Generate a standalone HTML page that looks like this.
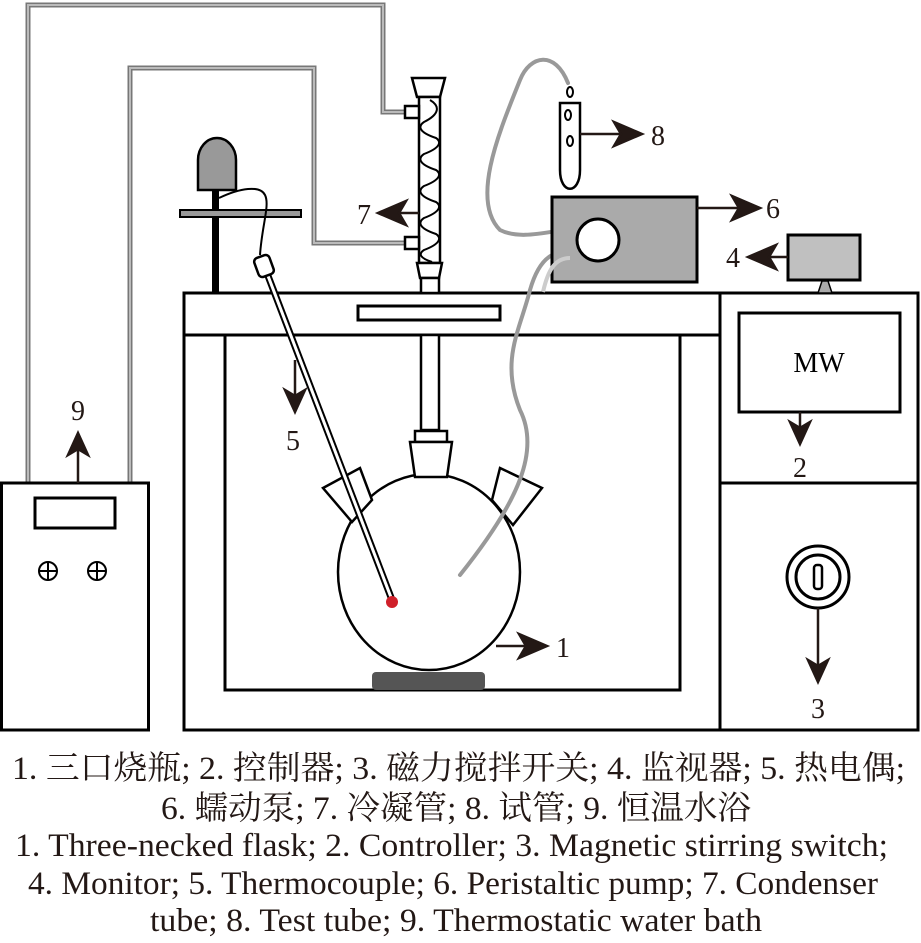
<!DOCTYPE html>
<html><head><meta charset="utf-8"><style>html,body{margin:0;padding:0;background:#fff}svg{display:block}</style></head>
<body>
<svg width="921" height="943" viewBox="0 0 921 943" xmlns="http://www.w3.org/2000/svg">
<g fill="none" stroke-linejoin="miter">
<path d="M28 483 V5 H383 V112 H405" stroke="#777" stroke-width="5"/>
<path d="M28 483 V5 H383 V112 H405" stroke="#bbb" stroke-width="2"/>
<path d="M130 483 V68 H314 V243 H405" stroke="#777" stroke-width="5"/>
<path d="M130 483 V68 H314 V243 H405" stroke="#bbb" stroke-width="2"/>
</g>
<rect x="1.5" y="483" width="147" height="247" fill="#fff" stroke="#000" stroke-width="3"/>
<rect x="35" y="498" width="80" height="30" fill="#fff" stroke="#000" stroke-width="3"/>
<g stroke="#000" stroke-width="2" fill="none">
<circle cx="48" cy="571" r="9"/><path d="M39 571h18M48 562v18"/>
<circle cx="97" cy="571" r="9"/><path d="M88 571h18M97 562v18"/>
</g>
<rect x="184" y="293" width="536" height="437" fill="#fff" stroke="#000" stroke-width="3"/>
<line x1="184" y1="335" x2="720" y2="335" stroke="#000" stroke-width="3"/>
<path d="M225 335 V690 H680 V335" fill="none" stroke="#000" stroke-width="3"/>
<rect x="358" y="306" width="142" height="14" fill="#fff" stroke="#000" stroke-width="3"/>
<rect x="720" y="293" width="198" height="437" fill="#fff" stroke="#000" stroke-width="3"/>
<line x1="720" y1="483" x2="918" y2="483" stroke="#000" stroke-width="3"/>
<rect x="739" y="313" width="161" height="99" fill="#fff" stroke="#000" stroke-width="3"/>
<text x="819" y="372" font-family="Liberation Serif, serif" font-size="28" text-anchor="middle">MW</text>
<circle cx="818" cy="577" r="31" fill="#fff" stroke="#000" stroke-width="3"/>
<circle cx="818" cy="577" r="22" fill="#fff" stroke="#000" stroke-width="3"/>
<rect x="814" y="565" width="8" height="24" rx="3" fill="#fff" stroke="#000" stroke-width="2.5"/>
<rect x="212" y="188" width="7" height="105" fill="#000"/>
<rect x="180" y="210" width="121" height="7" fill="#999" stroke="#000" stroke-width="2"/>
<path d="M198 190 V160 A19 22 0 0 1 236 160 V190 Z" fill="#999" stroke="#000" stroke-width="2.5"/>
<path d="M219 198 C240 188 260 185 265 195 C270 205 262 225 260 255" fill="none" stroke="#000" stroke-width="2"/>
<!-- condenser -->
<path d="M412 78 H445 L440 97 H417 Z" fill="#fff" stroke="#000" stroke-width="2.5"/>
<rect x="419" y="97" width="21" height="166" fill="#fff" stroke="#000" stroke-width="2.5"/>
<rect x="405" y="106" width="14" height="12" fill="#fff" stroke="#000" stroke-width="2.5"/>
<rect x="405" y="237" width="14" height="12" fill="#fff" stroke="#000" stroke-width="2.5"/>
<path d="M430 100 C440 106 440 114 424 122 C418 126 418 132 436 138 C442 142 440 148 424 154 C418 158 418 164 436 170 C442 174 440 180 424 186 C418 190 418 196 436 202 C442 206 440 212 424 218 C418 222 418 228 436 234 C442 238 440 244 424 250 C418 254 420 258 432 262" fill="none" stroke="#000" stroke-width="2"/>
<path d="M417 263 H442 L439 278 H420 Z" fill="#fff" stroke="#000" stroke-width="2.5"/>
<rect x="421" y="278" width="18" height="15" fill="#fff" stroke="#000" stroke-width="2.5"/>
<rect x="421" y="335" width="18" height="95" fill="#fff" stroke="#000" stroke-width="2.5"/>
<!-- flask -->
<g stroke="#000" stroke-width="2.5" fill="#fff">
<ellipse cx="429" cy="572" rx="91" ry="98"/>
<rect x="415" y="431" width="32" height="11"/>
<path d="M410 442 H452 L447 477 H415 Z"/>
<path d="M323 488 L360 468 L372 500 L352 522 Z"/>
<path d="M500 468 L542 488 L513 525 L492 500 Z"/>
</g>
<rect x="372" y="672" width="113" height="18" rx="4" fill="#555"/>
<!-- thermocouple -->
<line x1="265" y1="268" x2="392" y2="600" stroke="#000" stroke-width="7"/>
<line x1="265" y1="268" x2="392" y2="600" stroke="#fff" stroke-width="3"/>
<rect x="256" y="256" width="16" height="20" rx="4" fill="#fff" stroke="#000" stroke-width="2.5" transform="rotate(-20 264 266)"/>
<circle cx="392" cy="602" r="6" fill="#d0202a"/>
<!-- tubing -->
<g fill="none" stroke="#999" stroke-width="4" stroke-linecap="round">
<path d="M568 83 C555 50 530 55 520 80 C500 130 470 200 500 230 C520 240 545 232 578 228"/>
<path d="M578 250 C555 250 540 255 530 290 C520 330 500 360 520 410 C540 450 520 500 460 575"/>
</g>
<path d="M560 103 H580 V170 C580 195 560 195 560 170 Z" fill="#fff" stroke="#000" stroke-width="2.5"/>
<ellipse cx="570" cy="92" rx="3" ry="5" fill="#fff" stroke="#000" stroke-width="2"/>
<ellipse cx="568" cy="115" rx="3" ry="5" fill="#fff" stroke="#000" stroke-width="2"/>
<ellipse cx="570" cy="141" rx="3" ry="5" fill="#fff" stroke="#000" stroke-width="2"/>
<rect x="552" y="197" width="145" height="85" fill="#aaa" stroke="#000" stroke-width="3"/>
<circle cx="598" cy="240" r="21" fill="#fff" stroke="#000" stroke-width="3"/>
<path d="M570 258 C555 258 548 270 543 292" fill="none" stroke="#ccc" stroke-width="4"/>
<rect x="788" y="235" width="72" height="45" fill="#c0c0c0" stroke="#000" stroke-width="3"/>
<path d="M818 293 L822 281 L828 281 L832 293 Z" fill="#aaa" stroke="#000" stroke-width="1.5"/>
<g stroke="#231815" stroke-width="2.5" fill="#231815">
<line x1="580" y1="134" x2="625" y2="134"/><path d="M642 134 L614 122 L621 134 L614 146 Z"/>
<line x1="697" y1="208" x2="740" y2="208"/><path d="M760 208 L732 196 L739 208 L732 220 Z"/>
<line x1="788" y1="257" x2="765" y2="257"/><path d="M748 257 L776 245 L769 257 L776 269 Z"/>
<line x1="419" y1="213" x2="395" y2="213"/><path d="M378 213 L406 201 L399 213 L406 225 Z"/>
<line x1="295" y1="360" x2="295" y2="398"/><path d="M295 412 L285 390 L295 396 L305 390 Z"/>
<line x1="496" y1="646" x2="530" y2="646"/><path d="M547 646 L519 634 L526 646 L519 658 Z"/>
<line x1="800" y1="412" x2="800" y2="428"/><path d="M800 444 L790 422 L800 428 L810 422 Z"/>
<line x1="818" y1="608" x2="818" y2="665"/><path d="M818 682 L808 660 L818 666 L828 660 Z"/>
<line x1="78" y1="483" x2="78" y2="450"/><path d="M78 433 L68 455 L78 449 L88 455 Z"/>
</g>
<g font-family="Liberation Serif, serif" font-size="28" fill="#231815" text-anchor="middle">
<text x="658" y="145">8</text>
<text x="773" y="218">6</text>
<text x="733" y="267">4</text>
<text x="364" y="224">7</text>
<text x="293" y="450">5</text>
<text x="563" y="657">1</text>
<text x="800" y="477">2</text>
<text x="818" y="718">3</text>
<text x="78" y="420">9</text>
</g>
<g font-family="'Liberation Serif', 'Noto Serif CJK SC', serif" font-size="33" fill="#231815">
<text x="12" y="779" textLength="893" lengthAdjust="spacingAndGlyphs">1. 三口烧瓶; 2. 控制器; 3. 磁力搅拌开关; 4. 监视器; 5. 热电偶;</text>
<text x="161" y="819" textLength="590" lengthAdjust="spacingAndGlyphs">6. 蠕动泵; 7. 冷凝管; 8. 试管; 9. 恒温水浴</text>
<text x="15" y="856" textLength="873" lengthAdjust="spacingAndGlyphs">1. Three-necked flask; 2. Controller; 3. Magnetic stirring switch;</text>
<text x="28" y="894" textLength="850" lengthAdjust="spacingAndGlyphs">4. Monitor; 5. Thermocouple; 6. Peristaltic pump; 7. Condenser</text>
<text x="150" y="931" textLength="612" lengthAdjust="spacingAndGlyphs">tube; 8. Test tube; 9. Thermostatic water bath</text>
</g>
</svg>
</body></html>
